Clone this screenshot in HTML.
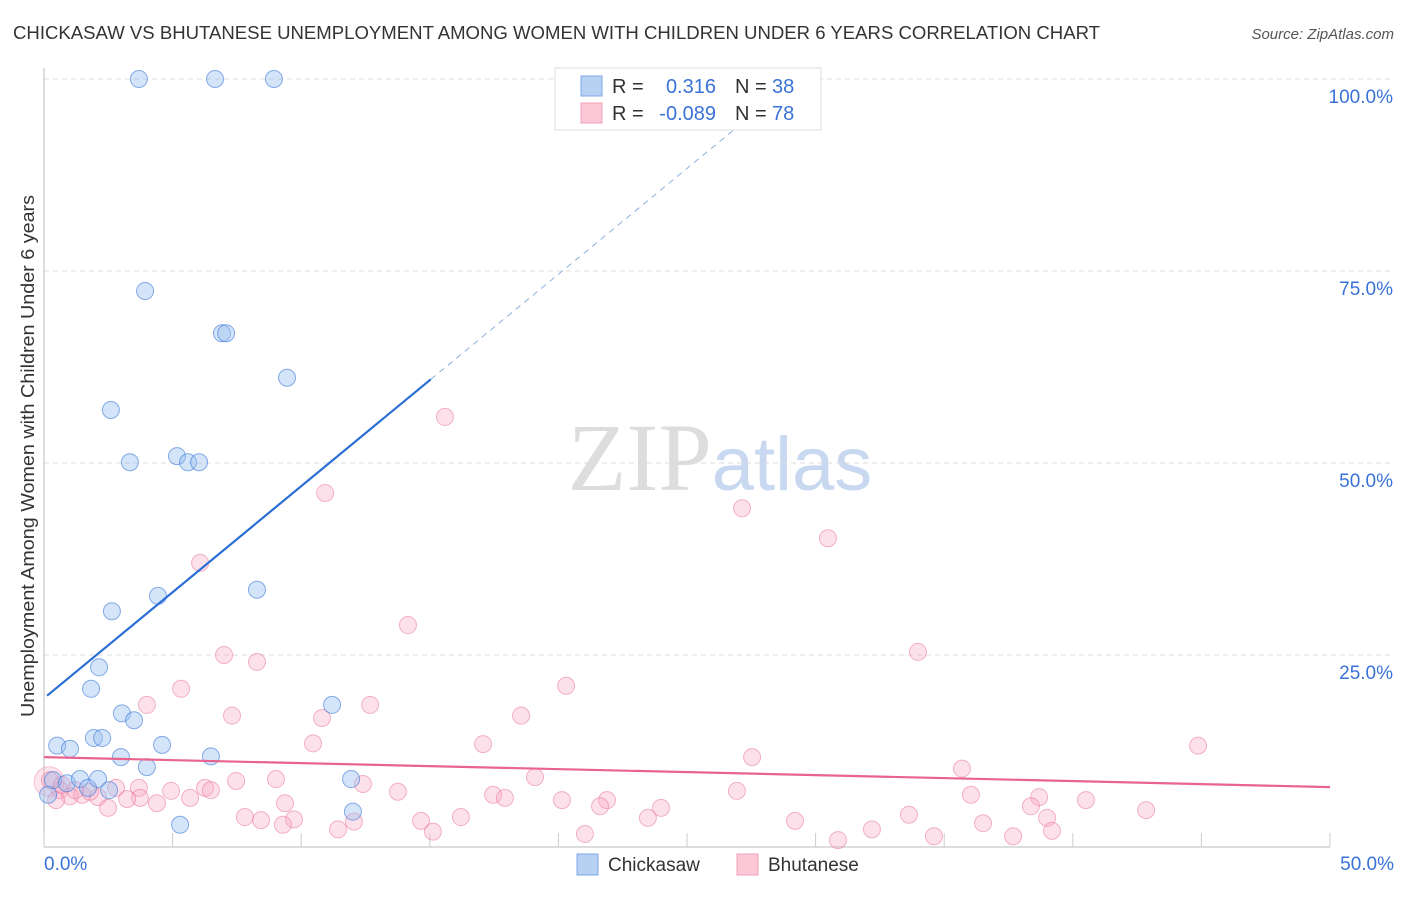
<!DOCTYPE html>
<html><head><meta charset="utf-8"><style>
body{margin:0;background:#fff;font-family:"Liberation Sans",sans-serif}
</style></head><body>
<svg id="chart" width="1406" height="892" xmlns="http://www.w3.org/2000/svg" font-family="Liberation Sans, sans-serif">
<text x="13" y="39" font-size="18" fill="#333" textLength="1087" lengthAdjust="spacingAndGlyphs">CHICKASAW VS BHUTANESE UNEMPLOYMENT AMONG WOMEN WITH CHILDREN UNDER 6 YEARS CORRELATION CHART</text>
<text x="1394" y="39" font-size="15" fill="#555" text-anchor="end" font-style="italic">Source: ZipAtlas.com</text>
<text x="720" y="490" font-size="96" text-anchor="middle"><tspan fill="#ddd" font-family="Liberation Serif, serif">ZIP</tspan><tspan fill="#c8d8f0" font-size="76">atlas</tspan></text>
<text transform="translate(34,456) rotate(-90)" font-size="18" fill="#333" text-anchor="middle" textLength="522" lengthAdjust="spacingAndGlyphs">Unemployment Among Women with Children Under 6 years</text>
<g id="grid"></g><g id="marks"></g>
<g>
<rect x="555" y="68" width="266" height="62" fill="#fff" stroke="#ddd"/>
<rect x="581" y="76" width="21" height="20" fill="#b7d1f3" stroke="#7fa8e6"/>
<rect x="581" y="103" width="21" height="20" fill="#fcc8d8" stroke="#f0a0b8"/>
<text x="612" y="93" font-size="20" fill="#333">R =</text><text x="716" y="93" font-size="20" fill="#3a72d8" text-anchor="end">0.316</text>
<text x="735" y="93" font-size="20" fill="#333">N =</text><text x="772" y="93" font-size="20" fill="#3a72d8">38</text>
<text x="612" y="120" font-size="20" fill="#333">R =</text><text x="716" y="120" font-size="20" fill="#3a72d8" text-anchor="end">-0.089</text>
<text x="735" y="120" font-size="20" fill="#333">N =</text><text x="772" y="120" font-size="20" fill="#3a72d8">78</text>
</g>
<g>
<rect x="577" y="854" width="21" height="21" fill="#b7d1f3" stroke="#7fa8e6"/>
<text x="608" y="871" font-size="19" fill="#333">Chickasaw</text>
<rect x="737" y="854" width="21" height="21" fill="#fcc8d8" stroke="#f0a0b8"/>
<text x="768" y="871" font-size="19" fill="#333">Bhutanese</text>
</g>
</svg>
<script>
const yTicks=[25,50,75,100];
const xTickLabels=["0.0%","50.0%"];
const blueX=[3.69,6.65,8.94,3.93,6.92,7.08,9.45,2.60,3.34,5.17,5.60,6.03,4.43,8.28,2.64,2.14,1.83,3.03,3.50,11.2,0.51,1.01,1.94,2.26,2.99,4.59,6.49,4.0,11.94,0.35,0.89,1.40,1.71,2.10,2.53,12.01,5.29,0.16];
const blueY=[100,100,100,72.4,66.9,66.9,61.1,56.9,50.1,50.9,50.1,50.1,32.7,33.5,30.7,23.4,20.6,17.4,16.5,18.5,13.2,12.8,14.2,14.2,11.7,13.3,11.8,10.4,8.85,8.7,8.3,8.85,7.7,8.85,7.4,4.6,2.9,6.8];
const pinkX=[15.59,10.93,27.14,30.48,6.07,14.15,7.0,8.28,33.98,5.33,20.3,4.0,12.68,7.31,10.81,18.55,10.46,17.07,44.87,27.53,35.69,7.47,9.02,12.40,19.09,2.80,3.69,4.94,6.26,6.49,13.76,17.46,17.92,26.94,36.04,38.69,3.73,4.39,5.68,2.10,2.49,3.23,9.37,20.14,21.89,21.62,23.99,38.37,40.51,42.85,7.81,8.44,9.72,12.05,14.66,16.21,23.48,29.2,33.63,39.0,9.29,11.43,15.12,21.03,30.87,32.19,34.6,36.51,37.68,39.19,0.62,0.23,1.01,1.48,1.79,1.21,0.47,0.70];
const pinkY=[56.0,46.1,44.1,40.2,37.0,28.9,25.0,24.1,25.4,20.6,21.0,18.5,18.5,17.1,16.8,17.1,13.5,13.4,13.2,11.7,10.2,8.6,8.85,8.2,9.1,7.7,7.7,7.3,7.7,7.4,7.2,6.8,6.4,7.3,6.8,6.5,6.4,5.7,6.4,6.5,5.1,6.25,5.7,6.1,6.1,5.3,5.1,5.3,6.1,4.8,3.9,3.5,3.6,3.3,3.4,3.9,3.8,3.4,4.2,3.8,2.9,2.3,2.0,1.7,0.9,2.3,1.4,3.1,1.4,2.1,7.4,8.7,6.6,6.8,7.2,7.4,6.1,8.1];
const blueTrend=[[0.12,19.7],[15.04,60.9]];
const blueDash=[[15.04,60.9],[27.3,94.7]];
const pinkTrend=[[0,11.7],[50,7.8]];
const NS="http://www.w3.org/2000/svg";
const X=v=>44+v*25.72, Y=v=>847-v*7.68;
function mk(tag,attrs,parent){const e=document.createElementNS(NS,tag);for(const k in attrs)e.setAttribute(k,attrs[k]);parent.appendChild(e);return e;}
const grid=document.getElementById('grid'), marks=document.getElementById('marks');
yTicks.forEach(t=>{
 const l=mk('line',{x1:44,x2:1394,y1:Y(t),y2:Y(t),stroke:'#ddd','stroke-dasharray':'5,4'},grid);
 
 
 const tx=mk('text',{x:1393,y:Y(t)+24,'font-size':19,fill:'#3a72d8','text-anchor':'end'},grid);
 tx.textContent=t.toFixed(1)+'%';
 
 
});
const ax=mk('line',{x1:44,x2:1330,y1:847,y2:847,stroke:'#bbb'},grid);


const ay=mk('line',{x1:44,x2:44,y1:68,y2:847,stroke:'#bbb'},grid);


for(let i=0;i<=10;i++){const t=mk('line',{x1:X(i*5),x2:X(i*5),y1:833,y2:847,stroke:'#ccc'},grid);
 
 }
[[0,'start',44],[50,'end',1394]].forEach((d,i)=>{const t=mk('text',{x:d[2],y:870,'font-size':19,fill:'#3a72d8','text-anchor':d[1]},grid);t.textContent=xTickLabels[i];
 
 });
const big=mk('circle',{cx:X(0.2),cy:Y(8.5),r:15,fill:'rgba(248,170,195,0.3)',stroke:'rgba(235,120,160,0.4)'},marks);


pinkX.forEach((v,i)=>{const c=mk('circle',{cx:X(v),cy:Y(pinkY[i]),r:8.5,fill:'rgba(248,170,195,0.35)',stroke:'rgba(232,110,150,0.5)','stroke-width':1},marks);
 
 });
blueX.forEach((v,i)=>{const c=mk('circle',{cx:X(v),cy:Y(blueY[i]),r:8.5,fill:'rgba(150,190,240,0.4)',stroke:'rgba(60,120,215,0.6)','stroke-width':1},marks);
 
 });
const bl=mk('line',{x1:X(blueTrend[0][0]),y1:Y(blueTrend[0][1]),x2:X(blueTrend[1][0]),y2:Y(blueTrend[1][1]),stroke:'#2b6fd6','stroke-width':2.2},marks);


const bd=mk('line',{x1:X(blueDash[0][0]),y1:Y(blueDash[0][1]),x2:X(blueDash[1][0]),y2:Y(blueDash[1][1]),stroke:'#8fb0e0','stroke-width':1,'stroke-dasharray':'6,5'},marks);


const pl=mk('line',{x1:X(pinkTrend[0][0]),y1:Y(pinkTrend[0][1]),x2:X(pinkTrend[1][0]),y2:Y(pinkTrend[1][1]),stroke:'#e8638f','stroke-width':2.2},marks);


</script>
</body></html>
